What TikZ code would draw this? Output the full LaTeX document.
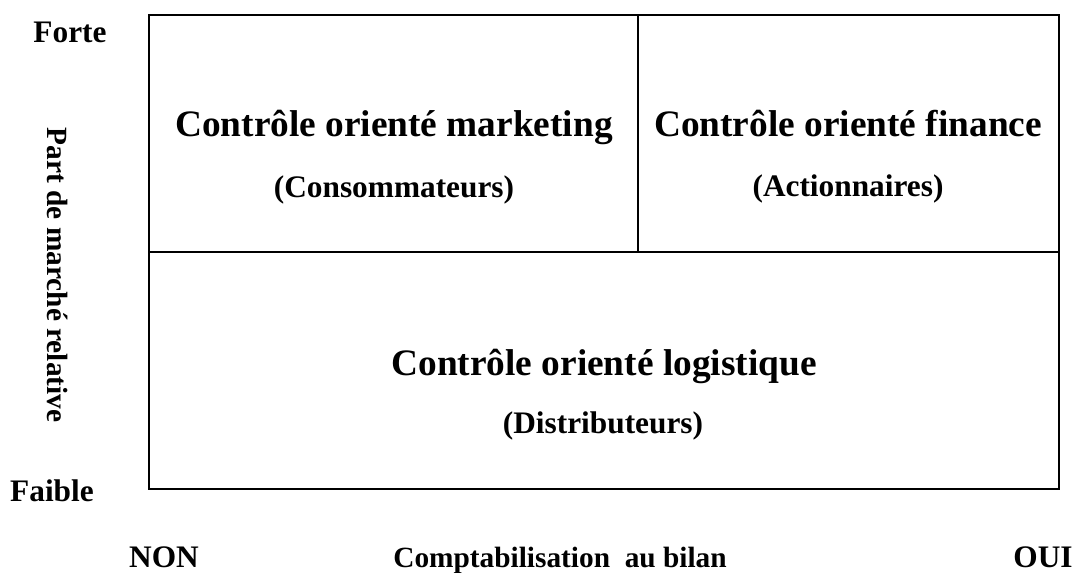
\documentclass[tikz,border=0pt]{standalone}
\usepackage{fontspec}
\setmainfont{Liberation Serif}
\usetikzlibrary{positioning}

\begin{document}
\begin{tikzpicture}[
        x=0.75pt, y=-0.75pt,
        every node/.style={inner sep=0pt, anchor=base},
        every path/.style={line width=1.5pt},
        cellhead/.style={font=\fontsize{28}{32}\selectfont\bfseries},
        cellsub/.style={font=\fontsize{23.5}{28}\selectfont\bfseries},
        axislabel/.style={font=\fontsize{23.5}{28}\selectfont\bfseries},
        axistitle/.style={font=\fontsize{22}{26}\selectfont\bfseries}
    ]
    \useasboundingbox (0,0) rectangle (1077,572);

    % Grid
    \draw (149,15) rectangle (1059,489);
    \draw (149,252) -- (1059,252);
    \draw (638,15) -- (638,252);

    % Cells
    \node[cellhead] (mkt) at (394,136) {Contrôle orienté marketing};
    \node[cellsub] (mktsub) at (394,197) {(Consommateurs)};
    \node[cellhead] (fin) at (848,136) {Contrôle orienté finance};
    \node[cellsub] (finsub) at (848,196) {(Actionnaires)};
    \node[cellhead] (log) at (604,375) {Contrôle orienté logistique};
    \node[cellsub] (logsub) at (603,433) {(Distributeurs)};

    % Axes
    \node[axislabel] (forte) at (70,42) {Forte};
    \node[axislabel] (faible) at (52,501) {Faible};
    \node[axistitle, rotate=-90] (part) at (47,275) {Part de marché relative};
    \node[axislabel] (non) at (164,567) {NON};
    \node[axistitle] (compta) at (560,567) {Comptabilisation\ \ au bilan};
    \node[axislabel] (oui) at (1043,567) {OUI};

\end{tikzpicture}
\end{document}
